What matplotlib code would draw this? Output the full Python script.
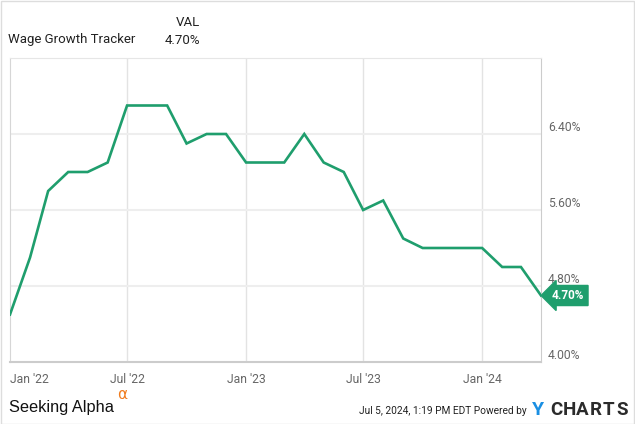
import matplotlib
matplotlib.use("Agg")
import matplotlib.pyplot as plt
import pandas as pd

plt.rcParams['font.family'] = ['Roboto', 'DejaVu Sans']

# Data (monthly)
months = pd.date_range("2022-01-01", "2024-04-01", freq="MS")
values = [4.5, 5.1, 5.8, 6.0, 6.0, 6.1, 6.7, 6.7, 6.7, 6.3, 6.4, 6.4,
          6.1, 6.1, 6.1, 6.4, 6.1, 6.0, 5.6, 5.7, 5.3, 5.2, 5.2, 5.2,
          5.2, 5.0, 5.0, 4.7]
series_name = "Wage Growth Tracker"
last_label = "4.70%"

ytick_vals = [4.0, 4.8, 5.6, 6.4]
xtick_dates = pd.to_datetime(["2022-01-01", "2022-07-01", "2023-01-01",
                              "2023-07-01", "2024-01-01"])
xtick_labels = ["Jan '22", "Jul '22", "Jan '23", "Jul '23", "Jan '24"]

green = "#1f9e6d"
W, H = 635, 424

fig = plt.figure(figsize=(W / 100, H / 100), dpi=100)
ax = fig.add_axes([10 / W, 1 - 362 / H, (541 - 10) / W, (362 - 58) / H])

ax.plot(months, values, color=green, lw=1.9, solid_joinstyle="miter", zorder=3)

ax.set_xlim(pd.Timestamp("2022-01-01"), pd.Timestamp("2024-04-01"))
ax.set_ylim(4.0, 7.2)

# grid
for d in xtick_dates[1:]:
    ax.axvline(d, color="#e3e3e3", lw=1, zorder=1)
for v in ytick_vals[1:]:
    ax.axhline(v, color="#eeeeee", lw=1.5, zorder=1)

ax.set_yticks(ytick_vals)
ax.set_yticklabels([f"{v:.2f}%" for v in ytick_vals])
ax.yaxis.tick_right()
ax.tick_params(axis="y", length=0, pad=5, labelsize=8.7, labelcolor="#666666")
for lab in ax.get_yticklabels():
    lab.set_verticalalignment("bottom")

ax.set_xticks(xtick_dates)
ax.set_xticklabels(xtick_labels)
ax.tick_params(axis="x", length=0, pad=8, labelsize=8.7, labelcolor="#666666")
ax.get_xticklabels()[0].set_horizontalalignment("left")

ax.spines["top"].set_color("#e6e6e6")
ax.spines["left"].set_color("#d6d6d6")
ax.spines["right"].set_color("#cccccc")
ax.spines["bottom"].set_color("#cccccc")
ax.spines["bottom"].set_linewidth(1.5)

# last value tag
ax.annotate(last_label, xy=(months[-1], values[-1]), xytext=(8, 0),
            textcoords="offset points", ha="left", va="center",
            fontsize=8.5, fontweight="bold", color="white",
            bbox=dict(boxstyle="larrow,pad=0.3", fc=green, ec=green),
            annotation_clip=False, zorder=5)

# header
fig.text(176 / W, 1 - 22 / H, "VAL", fontsize=9.5, color="#222222", va="center")
fig.text(8 / W, 1 - 40 / H, series_name, fontsize=9.5, color="#222222", va="center")
fig.text(165 / W, 1 - 40 / H, last_label, fontsize=9.5, color="#222222", va="center")

# footer
fig.text(9 / W, 1 - 412 / H, "Seeking Alpha", fontsize=11.8, color="#111111",
         va="baseline", family=["Liberation Sans", "DejaVu Sans"])
fig.text(117 / W, 1 - 399 / H, "\u03b1", fontsize=11, color="#f07b1d",
         va="baseline", family=["DejaVu Sans"])
fig.text(527 / W, 1 - 414 / H, "Jul 5, 2024, 1:19 PM EDT Powered by",
         fontsize=7.3, color="#222222", ha="right", va="baseline")
fig.text(532 / W, 1 - 415 / H, "Y", fontsize=14, fontweight="bold", color="#1a8fe3",
         va="baseline")
for i, ch in enumerate("CHARTS"):
    fig.text((550 + i * 13.2) / W, 1 - 415 / H, ch, fontsize=13.5, fontweight="bold",
             color="#2b2b2b", va="baseline")

# outer frame
fig.patches.append(plt.Rectangle((0.5 / W, 0.5 / H), 1 - 1.5 / W, 1 - 1.5 / H,
                                 transform=fig.transFigure, fill=False,
                                 ec="#dddddd", lw=1))

fig.savefig("out.png", dpi=100)
